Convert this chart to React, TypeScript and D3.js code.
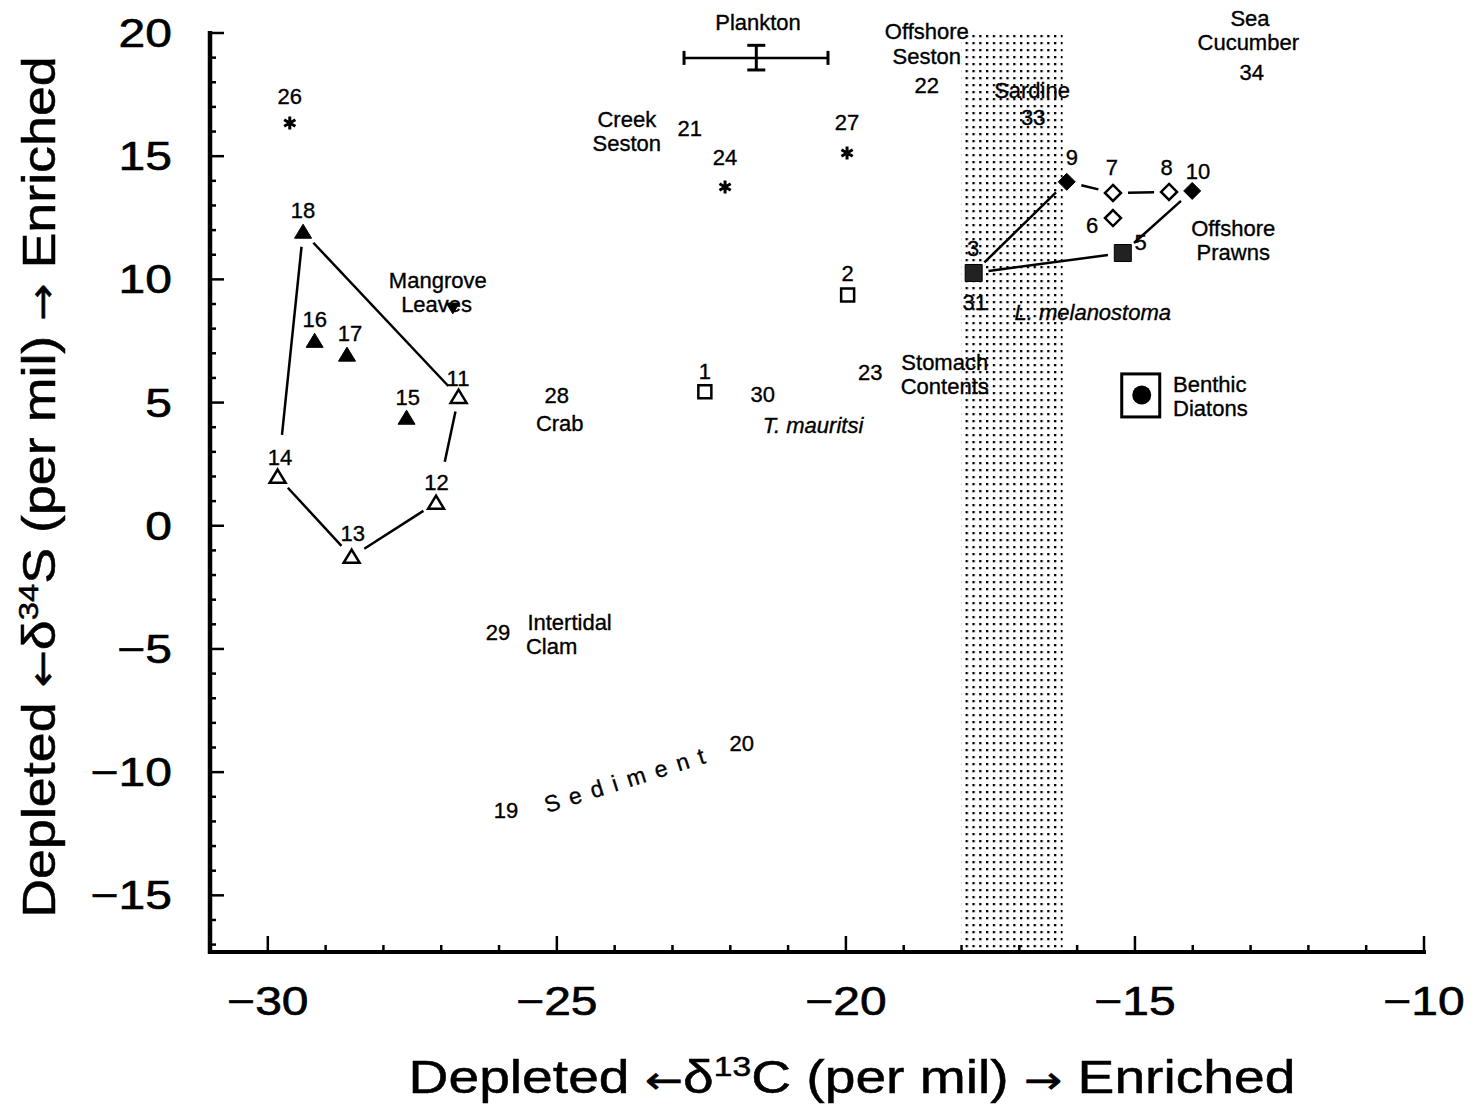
import React, { useEffect, useRef } from "react";
import * as d3 from "d3";

// delta13C (x) / delta34S (y), per mil
const openTriangles = [
  { id: "11", x: -26.7, y: 5.23 },
  { id: "12", x: -27.09, y: 0.93 },
  { id: "13", x: -28.55, y: -1.26 },
  { id: "14", x: -29.83, y: 1.99 },
];
const filledTriangles = [
  { id: "15", x: -27.6, y: 4.38 },
  { id: "16", x: -29.19, y: 7.5 },
  { id: "17", x: -28.63, y: 6.94 },
  { id: "18", x: -29.39, y: 11.93 },
];
const mangroveLeaves = [{ id: "ML", x: -26.8, y: 8.84 }];
const openSquares = [
  { id: "1", x: -22.44, y: 5.44 },
  { id: "2", x: -19.97, y: 9.37 },
];
const filledSquares = [
  { id: "3", x: -17.79, y: 10.26 },
  { id: "5", x: -15.21, y: 11.07 },
];
const openDiamonds = [
  { id: "6", x: -15.38, y: 12.49 },
  { id: "7", x: -15.38, y: 13.51 },
  { id: "8", x: -14.41, y: 13.55 },
];
const filledDiamonds = [
  { id: "9", x: -16.18, y: 13.96 },
  { id: "10", x: -14.01, y: 13.59 },
];
const asterisks = [
  { id: "24", x: -22.09, y: 13.75 },
  { id: "26", x: -29.62, y: 16.35 },
  { id: "27", x: -19.98, y: 15.13 },
];
const benthicDiatoms = [{ id: "BD", x: -14.9, y: 5.31 }];
const plankton = { x: -21.55, y: 18.99, xLo: -22.8, xHi: -20.31, yLo: 18.5, yHi: 19.5 };
const sardineBand = [-18.0, -16.25];

// joined points (outline of the two groups)
const hulls = [
  ["18", "11"], ["11", "12"], ["12", "13"], ["13", "14"], ["14", "18"],
  ["3", "9"], ["9", "7"], ["7", "8"], ["10", "5"], ["5", "3"],
];

const xTicks = [-30, -25, -20, -15, -10];
const yTicks = [20, 15, 10, 5, 0, -5, -10, -15];

// text annotations, placed in data units
const labels = [
  { t: "26", x: -29.62, y: 17.44 },
  { t: "18", x: -29.39, y: 12.82 },
  { t: "16", x: -29.19, y: 8.4 },
  { t: "17", x: -28.58, y: 7.83 },
  { t: "15", x: -27.58, y: 5.23 },
  { t: "11", x: -26.71, y: 6.0 },
  { t: "14", x: -29.79, y: 2.8 },
  { t: "13", x: -28.53, y: -0.28 },
  { t: "12", x: -27.08, y: 1.78 },
  { t: "Mangrove", x: -27.06, y: 9.97 },
  { t: "Leaves", x: -27.08, y: 9.0 },
  { t: "28", x: -25.0, y: 5.31 },
  { t: "Crab", x: -24.95, y: 4.18 },
  { t: "29", x: -26.02, y: -4.3 },
  { t: "Intertidal", x: -24.78, y: -3.92 },
  { t: "Clam", x: -25.09, y: -4.9 },
  { t: "19", x: -25.88, y: -11.56 },
  { t: "20", x: -21.8, y: -8.84 },
  { t: "Plankton", x: -21.52, y: 20.45 },
  { t: "Creek", x: -23.79, y: 16.5 },
  { t: "Seston", x: -23.79, y: 15.52 },
  { t: "21", x: -22.7, y: 16.15 },
  { t: "24", x: -22.09, y: 14.97 },
  { t: "27", x: -19.98, y: 16.39 },
  { t: "2", x: -19.97, y: 10.26 },
  { t: "1", x: -22.44, y: 6.29 },
  { t: "30", x: -21.44, y: 5.35 },
  { t: "T. mauritsi", x: -20.57, y: 4.1, it: true },
  { t: "23", x: -19.58, y: 6.25 },
  { t: "Stomach", x: -18.29, y: 6.66 },
  { t: "Contents", x: -18.29, y: 5.68 },
  { t: "Offshore", x: -18.6, y: 20.06 },
  { t: "Seston", x: -18.6, y: 19.08 },
  { t: "22", x: -18.6, y: 17.9 },
  { t: "Sardine", x: -16.78, y: 17.69 },
  { t: "33", x: -16.76, y: 16.59 },
  { t: "9", x: -16.09, y: 14.97 },
  { t: "3", x: -17.8, y: 11.28 },
  { t: "31", x: -17.77, y: 9.09 },
  { t: "6", x: -15.74, y: 12.21 },
  { t: "7", x: -15.4, y: 14.56 },
  { t: "8", x: -14.45, y: 14.56 },
  { t: "10", x: -13.91, y: 14.4 },
  { t: "5", x: -14.9, y: 11.52 },
  { t: "Offshore", x: -13.3, y: 12.08 },
  { t: "Prawns", x: -13.3, y: 11.1 },
  { t: "L. melanostoma", x: -15.73, y: 8.68, it: true },
  { t: "Sea", x: -13.01, y: 20.62 },
  { t: "Cucumber", x: -13.04, y: 19.62 },
  { t: "34", x: -12.98, y: 18.42 },
  { t: "Benthic", x: -14.34, y: 5.75, left: true },
  { t: "Diatons", x: -14.34, y: 4.77, left: true },
];
const sediment = { t: "Sediment", x: -23.75, y: -10.26 };

const FONT = "'Liberation Sans', Arial, Helvetica, sans-serif";
const ARROW_FONT = "'DejaVu Sans', sans-serif";

export default function App() {
  const ref = useRef<SVGSVGElement>(null);

  useEffect(() => {
    const svg = d3.select(ref.current);
    svg.selectAll("*").remove();

    const x = d3.scaleLinear().domain([-31, -10]).range([210, 1424]);
    const y = d3.scaleLinear().domain([-17.3, 20]).range([952, 33]);

    // stipple band
    const pat = svg
      .append("defs")
      .append("pattern")
      .attr("id", "stipple")
      .attr("patternUnits", "userSpaceOnUse")
      .attr("width", 6.8)
      .attr("height", 7);
    pat.append("rect").attr("width", 2.3).attr("height", 2.3).attr("fill", "#000");

    svg
      .append("rect")
      .attr("x", x(sardineBand[0]))
      .attr("y", y(20))
      .attr("width", x(sardineBand[1]) - x(sardineBand[0]))
      .attr("height", y(-17.3) - y(20))
      .attr("fill", "url(#stipple)");

    // axes
    const ax = svg.append("g").attr("stroke", "#000");
    ax.append("line")
      .attr("x1", x(-31)).attr("x2", x(-31))
      .attr("y1", y(20) - 2).attr("y2", y(-17.3) + 2)
      .attr("stroke-width", 4.5);
    ax.append("line")
      .attr("x1", x(-31) - 2).attr("x2", x(-10) + 2)
      .attr("y1", y(-17.3)).attr("y2", y(-17.3))
      .attr("stroke-width", 4);

    d3.range(-17, 21).forEach(function (v) {
      var len = v % 5 === 0 ? 14 : 6;
      ax.append("line")
        .attr("x1", x(-31)).attr("x2", x(-31) + len)
        .attr("y1", y(v)).attr("y2", y(v))
        .attr("stroke-width", 2.5);
    });
    d3.range(-30, -9).forEach(function (v) {
      var len = v % 5 === 0 ? 16 : 7;
      ax.append("line")
        .attr("x1", x(v)).attr("x2", x(v))
        .attr("y1", y(-17.3)).attr("y2", y(-17.3) - len)
        .attr("stroke-width", 2.5);
    });

    const fmt = (v: number) => (v < 0 ? "\u2212" + Math.abs(v) : String(v));

    svg.selectAll(".ytick")
      .data(yTicks)
      .enter()
      .append("text")
      .attr("transform", (d) => `translate(172,${y(d) + 14}) scale(1.2,1)`)
      .attr("text-anchor", "end")
      .attr("font-family", FONT)
      .attr("font-size", 40)
      .attr("stroke", "#000")
      .attr("stroke-width", 0.6)
      .text(fmt);

    svg.selectAll(".xtick")
      .data(xTicks)
      .enter()
      .append("text")
      .attr("transform", (d) => `translate(${x(d)},1015) scale(1.2,1)`)
      .attr("text-anchor", "middle")
      .attr("font-family", FONT)
      .attr("font-size", 40)
      .attr("stroke", "#000")
      .attr("stroke-width", 0.6)
      .text(fmt);

    // axis titles
    function title(g: any, sup: string, letter: string) {
      g.append("tspan").text("Depleted ");
      g.append("tspan").attr("font-family", ARROW_FONT).attr("font-size", 38).text("\u2190");
      g.append("tspan").text("\u03b4");
      g.append("tspan").attr("dy", -17).attr("font-size", 28).text(sup);
      g.append("tspan").attr("dy", 17).text(letter + " (per mil) ");
      g.append("tspan").attr("font-family", ARROW_FONT).attr("font-size", 38).text("\u2192");
      g.append("tspan").text(" Enriched");
    }
    const xt = svg.append("text")
      .attr("transform", "translate(852,1093) scale(1.2,1)")
      .attr("text-anchor", "middle")
      .attr("font-family", FONT)
      .attr("font-size", 46)
      .attr("stroke", "#000")
      .attr("stroke-width", 0.5);
    title(xt, "13", "C");

    const yt = svg.append("text")
      .attr("transform", "translate(55,487) rotate(-90) scale(1.17,1)")
      .attr("text-anchor", "middle")
      .attr("font-family", FONT)
      .attr("font-size", 46)
      .attr("stroke", "#000")
      .attr("stroke-width", 0.5);
    title(yt, "34", "S");

    // hull lines, cut short near each marker (longer cut where a label sits above it)
    const all = [
      ...openTriangles, ...filledTriangles, ...openSquares, ...filledSquares,
      ...openDiamonds, ...filledDiamonds,
    ];
    const pos = new Map(all.map((d) => [d.id, [x(d.x), y(d.y)]]));
    // (dx, dy): direction of travel into the end point
    const gap = (dx: number, dy: number) => (dy > 0 && dy > 1.5 * Math.abs(dx) ? 42 : 15);
    hulls.forEach(function ([a, b]) {
      const [x1, y1] = pos.get(a)!;
      const [x2, y2] = pos.get(b)!;
      const dx = x2 - x1, dy = y2 - y1;
      const L = Math.hypot(dx, dy);
      const g1 = gap(-dx, -dy), g2 = gap(dx, dy);
      svg.append("line")
        .attr("x1", x1 + (dx / L) * g1).attr("y1", y1 + (dy / L) * g1)
        .attr("x2", x2 - (dx / L) * g2).attr("y2", y2 - (dy / L) * g2)
        .attr("stroke", "#000")
        .attr("stroke-width", 2.5);
    });

    // markers
    const tri = (s: number) => `M0,${-s * 0.9}L${s},${s * 0.75}L${-s},${s * 0.75}Z`;
    const triDown = (s: number) => `M0,${s * 0.9}L${s},${-s * 0.75}L${-s},${-s * 0.75}Z`;
    const sq = (s: number) => `M${-s},${-s}H${s}V${s}H${-s}Z`;
    const dia = (s: number) => `M0,${-s}L${s},0L0,${s}L${-s},0Z`;
    const star = (s: number) =>
      [0, 60, 120].map((a) => {
        const r = (a * Math.PI) / 180;
        return `M${-s * Math.sin(r)},${-s * Math.cos(r)}L${s * Math.sin(r)},${s * Math.cos(r)}`;
      }).join("");

    function marks(data: { x: number; y: number }[], d: string, fill: string, sw: number) {
      svg.append("g")
        .selectAll("path")
        .data(data)
        .enter()
        .append("path")
        .attr("transform", (p) => `translate(${x(p.x)},${y(p.y)})`)
        .attr("d", d)
        .attr("fill", fill)
        .attr("stroke", "#000")
        .attr("stroke-width", sw)
        .attr("stroke-linejoin", "miter");
    }
    marks(openTriangles, tri(8), "#fff", 2.5);
    marks(filledTriangles, tri(8.5), "#000", 1);
    marks(mangroveLeaves, triDown(6.5), "#000", 1);
    marks(openSquares, sq(6.5), "#fff", 2.5);
    marks(filledSquares, sq(8.5), "#222", 1);
    marks(openDiamonds, dia(8), "#fff", 2.5);
    marks(filledDiamonds, dia(8.5), "#000", 1);
    marks(asterisks, star(6.5), "none", 3);

    // benthic diatoms box
    benthicDiatoms.forEach(function (p) {
      svg.append("rect")
        .attr("x", x(p.x) - 19).attr("y", y(p.y) - 21)
        .attr("width", 38).attr("height", 43)
        .attr("fill", "#fff").attr("stroke", "#000").attr("stroke-width", 3);
      svg.append("circle")
        .attr("cx", x(p.x) + 1).attr("cy", y(p.y))
        .attr("r", 9.5).attr("fill", "#000");
    });

    // plankton range bars
    const pg = svg.append("g").attr("stroke", "#000");
    pg.append("line")
      .attr("x1", x(plankton.xLo)).attr("x2", x(plankton.xHi))
      .attr("y1", y(plankton.y)).attr("y2", y(plankton.y))
      .attr("stroke-width", 2.5);
    [plankton.xLo, plankton.xHi].forEach(function (v) {
      pg.append("line")
        .attr("x1", x(v)).attr("x2", x(v))
        .attr("y1", y(plankton.y) - 7).attr("y2", y(plankton.y) + 7)
        .attr("stroke-width", 3);
    });
    pg.append("line")
      .attr("x1", x(plankton.x)).attr("x2", x(plankton.x))
      .attr("y1", y(plankton.yHi)).attr("y2", y(plankton.yLo))
      .attr("stroke-width", 3);
    [plankton.yLo, plankton.yHi].forEach(function (v) {
      pg.append("line")
        .attr("x1", x(plankton.x) - 9).attr("x2", x(plankton.x) + 9)
        .attr("y1", y(v)).attr("y2", y(v))
        .attr("stroke-width", 3);
    });

    // labels
    svg.append("g")
      .selectAll("text")
      .data(labels)
      .enter()
      .append("text")
      .attr("x", (d) => x(d.x))
      .attr("y", (d) => y(d.y))
      .attr("dy", "0.36em")
      .attr("text-anchor", (d) => (d.left ? "start" : "middle"))
      .attr("font-style", (d) => (d.it ? "italic" : "normal"))
      .attr("font-family", FONT)
      .attr("font-size", 22)
      .attr("stroke", "#000")
      .attr("stroke-width", 0.35)
      .text((d) => d.t);

    svg.append("text")
      .attr("transform", `translate(${x(sediment.x)},${y(sediment.y)}) rotate(-17.5)`)
      .attr("dy", "0.36em")
      .attr("text-anchor", "middle")
      .attr("letter-spacing", 10)
      .attr("font-family", FONT)
      .attr("font-size", 23)
      .attr("stroke", "#000")
      .attr("stroke-width", 0.35)
      .text(sediment.t);
  }, []);

  return (
    <svg
      ref={ref}
      width={1475}
      height={1104}
      style={{ position: "absolute", left: 0, top: 0, background: "#fff" }}
    />
  );
}
